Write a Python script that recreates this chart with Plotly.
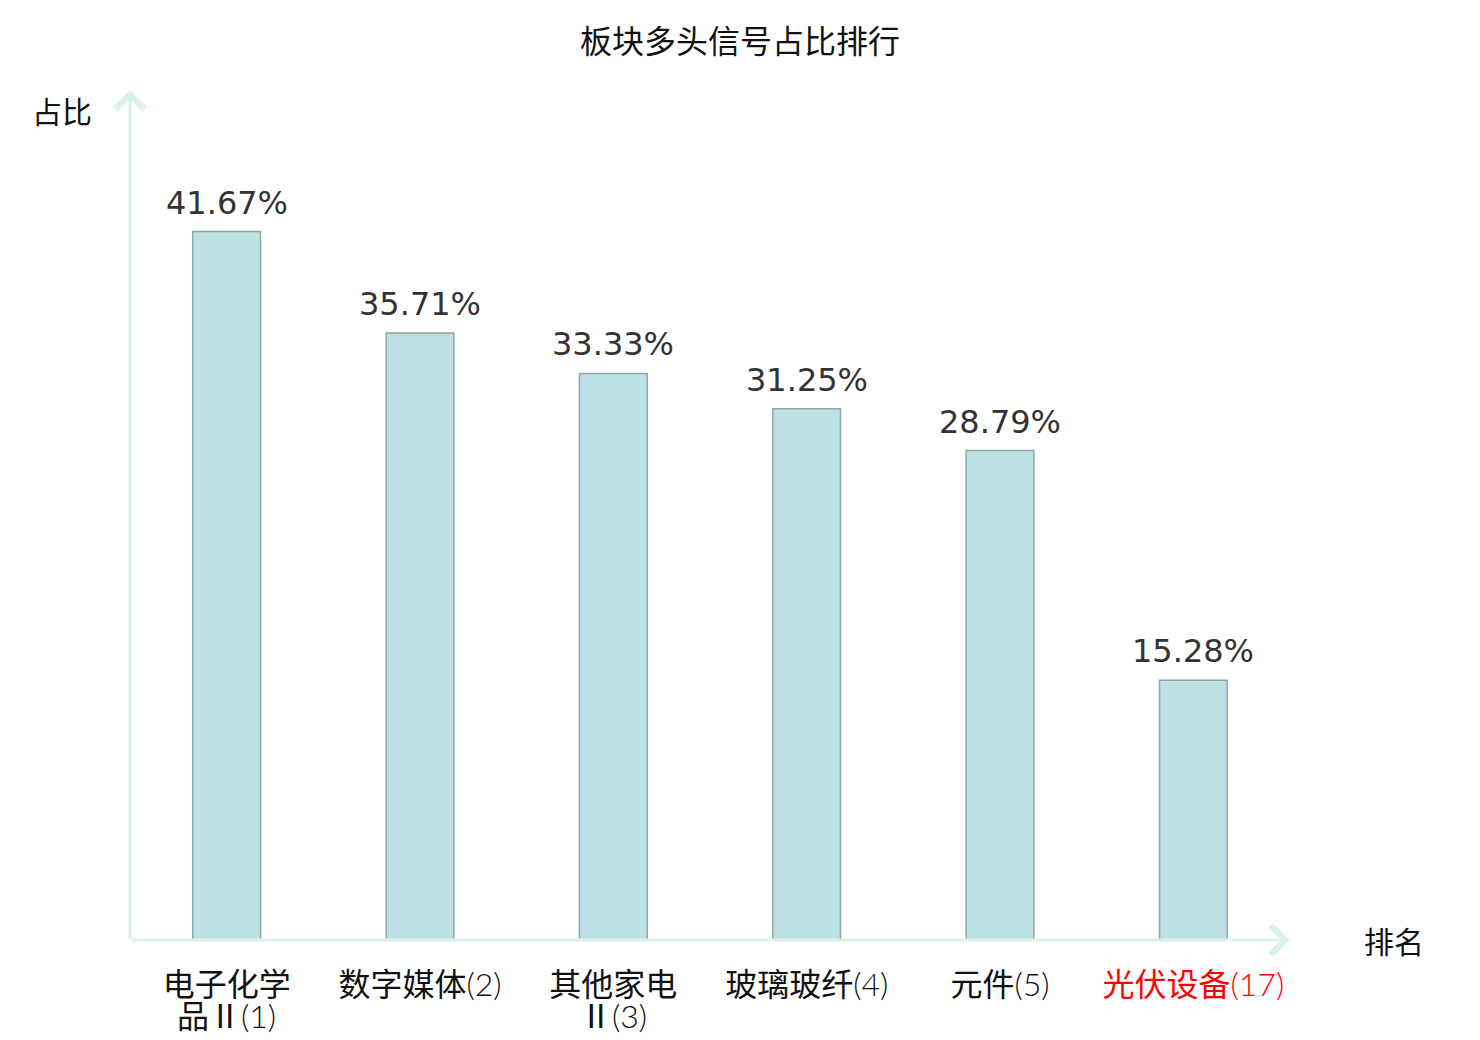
import plotly.graph_objects as go

# data
label_lines = [["电子化学", "品Ⅱ(1)"], ["数字媒体(2)"], ["其他家电", "Ⅱ(3)"],
               ["玻璃玻纤(4)"], ["元件(5)"], ["光伏设备(17)"]]
ratios = [41.67, 35.71, 33.33, 31.25, 28.79, 15.28]
highlight = [False, False, False, False, False, True]

title_text = "板块多头信号占比排行"
y_title = "占比"
x_title = "排名"

font_family = "Noto Sans CJK SC, DejaVu Sans, sans-serif"
tick_family = "Lato Light, Noto Sans CJK SC, sans-serif"
axis_color = "#dcf1ee"
text_dark = "#111111"

positions = list(range(len(label_lines)))


def colored(s, red):
    return f'<span style="color:#ff0000">{s}</span>' if red else s


fig = go.Figure()
fig.add_trace(go.Bar(
    x=positions,
    y=ratios,
    width=0.35,
    marker=dict(color="#bce0e3", line=dict(color="#8aa8a8", width=1.5)),
    cliponaxis=False,
))

fig.update_layout(
    width=1480,
    height=1040,
    paper_bgcolor="white",
    plot_bgcolor="white",
    showlegend=False,
    margin=dict(l=130, r=190, t=90, b=100),
    font=dict(family=font_family, size=30, color=text_dark),
    title=dict(text=title_text, x=0.5, xanchor="center", y=1 - 42 / 1040,
               yanchor="middle", yref="container", font=dict(size=32, color=text_dark)),
    xaxis=dict(
        range=[-0.5, len(label_lines) - 0.5],
        tickvals=positions,
        ticktext=[colored(lines[0], h) for lines, h in zip(label_lines, highlight)],
        showgrid=False,
        zeroline=False,
        showline=False,
        ticks="",
        automargin=False,
        ticklabelstandoff=23,
        tickfont=dict(size=32, color=text_dark, family=tick_family),
    ),
    yaxis=dict(
        range=[0, 50],
        showgrid=False,
        zeroline=False,
        showline=False,
        showticklabels=False,
        ticks="",
        automargin=False,
    ),
)

# value labels above bars
for p, v in zip(positions, ratios):
    fig.add_annotation(x=p, y=v, xref="x", yref="y", text=f"{v:.2f}%", showarrow=False,
                       yanchor="bottom", yshift=8,
                       font=dict(size=32, color="#333333", family="DejaVu Sans"))

# second line of wrapped category labels
for p, lines, h in zip(positions, label_lines, highlight):
    for i, line in enumerate(lines[1:], start=1):
        fig.add_annotation(x=p, y=0, xref="x", yref="y", text=colored(line, h),
                           showarrow=False, yanchor="middle", yshift=-43 - 32 * i,
                           font=dict(size=32, color=text_dark, family=tick_family))

# axes drawn as arrows
fig.add_annotation(x=len(label_lines) - 0.5, y=0, ax=-0.5, ay=0, xref="x", yref="y",
                   axref="x", ayref="y", text="", showarrow=True, arrowhead=4,
                   arrowsize=1.9, arrowwidth=3, arrowcolor=axis_color)
fig.add_annotation(x=-0.5, y=50, ax=-0.5, ay=0, xref="x", yref="y",
                   axref="x", ayref="y", text="", showarrow=True, arrowhead=4,
                   arrowsize=1.9, arrowwidth=3, arrowcolor=axis_color)

fig.add_annotation(x=-0.5, y=50, xref="x", yref="y", text=y_title, showarrow=False,
                   xanchor="right", yanchor="middle", xshift=-36, yshift=-20,
                   font=dict(size=30, color=text_dark))
fig.add_annotation(x=len(label_lines) - 0.5, y=0, xref="x", yref="y", text=x_title,
                   showarrow=False, xanchor="left", yanchor="middle", xshift=72,
                   font=dict(size=30, color=text_dark))

# the page's default body margin would shift the figure by 8px
fig.write_html("out.html", config={"displayModeBar": False},
               post_script="document.body.style.margin='0';")
